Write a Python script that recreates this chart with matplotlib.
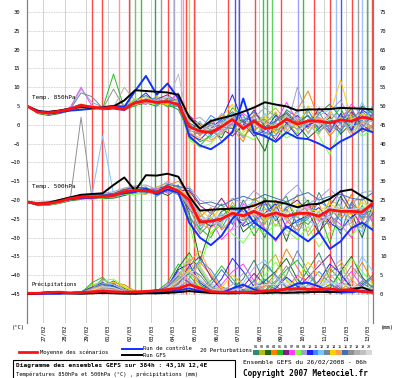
import matplotlib
matplotlib.use("Agg")
import matplotlib.pyplot as plt
import matplotlib.transforms as mtransforms
from matplotlib.lines import Line2D
from matplotlib.patches import Rectangle

# forecast hours since 26/02/2008 06h, every 12 h
hours = [0, 12, 24, 36, 48, 60, 72, 84, 96, 108, 120, 132, 144, 156, 168, 180, 192,
         204, 216, 228, 240, 252, 264, 276, 288, 300, 312, 324, 336, 348, 360, 372, 384]

date_labels = ["27/02", "28/02", "29/02", "01/03", "02/03", "03/03", "04/03", "05/03",
               "06/03", "07/03", "08/03", "09/03", "10/03", "11/03", "12/03", "13/03"]
date_hours = [18, 42, 66, 90, 114, 138, 162, 186, 210, 234, 258, 282, 306, 330, 354, 378]

member_colors = ["#2e8b6e", "#b8b820", "#1a6b1a", "#ff8000", "#20c020", "#8b1a8b", "#ff40ff",
                 "#80ff40", "#a0a0d0", "#2020ff", "#3090ff", "#80c0ff", "#6a8aa0", "#ffd000",
                 "#ffa050", "#4070b0", "#909090", "#b0b0b0", "#c0c0c0", "#d8d8d8"]

# 850 hPa temperature (deg C)
t850_mean = [5.0, 3.4, 3.2, 3.6, 4.2, 5.2, 4.7, 4.4, 4.7, 4.2, 5.9, 6.4, 6.0, 6.2, 5.4, -0.5, -1.7,
             -2.0, -0.5, 1.4, -1.0, 1.0, -1.0, -0.5, 1.5, 0.2, 1.0, 1.0, 0.5, 1.3, 1.0, 2.0, 1.5]
t850_ctrl = [5.0, 3.8, 3.0, 3.3, 3.8, 4.0, 4.3, 4.6, 5.0, 4.8, 9.0, 13.0, 8.0, 11.0, 7.0, -3.0, -5.5,
             -6.5, -4.6, -2.0, 7.0, -2.0, -3.0, -4.5, -2.0, -3.5, -3.8, -5.0, -6.5, -4.4, -3.0, -1.0, -2.0]
t850_gfs = [5.0, 3.6, 3.4, 3.8, 4.3, 4.8, 4.5, 4.6, 4.9, 6.5, 9.2, 9.0, 8.8, 8.6, 8.0, 2.0, -1.0,
            1.0, 1.8, 2.5, 3.5, 4.6, 6.0, 5.4, 4.9, 3.8, 4.1, 4.1, 4.2, 4.5, 4.4, 4.3, 4.1]
t850_members = [
    [5.0, 3.2, 2.8, 3.3, 4.0, 4.6, 4.3, 4.5, 5.0, 4.6, 6.5, 7.8, 6.2, 5.5, 4.0, -2.0, -4.5, -3.0, 1.0, 3.5, 0.5, 2.5, -3.0, -1.5, 4.0, 2.0, -1.0, 3.0, 5.5, 2.0, -2.0, 3.5, 1.0],
    [5.0, 3.6, 3.4, 3.9, 4.4, 5.0, 4.9, 4.2, 4.3, 4.8, 5.5, 6.0, 7.5, 6.8, 6.0, 1.5, -1.0, -4.0, -2.5, 0.5, -3.0, -0.5, 2.0, 4.5, 1.0, -2.5, 3.5, 0.5, -1.5, 2.5, 4.0, 0.5, 2.5],
    [5.0, 3.0, 2.5, 3.0, 3.8, 4.4, 4.6, 4.8, 4.4, 4.0, 5.2, 5.8, 5.0, 7.0, 6.5, -1.5, 0.5, -1.5, -3.5, 2.0, 1.0, -2.0, -7.0, 1.5, 3.0, 0.0, -3.5, -1.0, 2.0, -2.5, 0.5, 5.0, 3.0],
    [5.0, 3.5, 3.3, 3.5, 4.1, 4.8, 5.0, 4.6, 4.9, 4.5, 6.8, 6.5, 5.8, 5.2, 7.2, 0.5, -3.0, 0.5, 2.5, -1.0, -4.5, 3.0, 1.0, -2.5, -0.5, 4.0, 9.0, 1.5, -3.0, 0.5, 2.0, -1.5, 0.0],
    [5.0, 3.3, 3.0, 3.4, 3.9, 4.3, 4.2, 4.4, 13.5, 4.4, 5.0, 6.8, 6.6, 4.8, 5.0, -3.5, -5.5, -2.5, 0.0, 4.5, 2.5, -1.5, 0.5, 3.0, -2.5, 1.0, 2.5, -2.0, 1.0, 4.5, -1.0, 1.5, 4.0],
    [5.0, 3.7, 3.6, 3.8, 4.5, 5.5, 4.5, 4.0, 4.2, 3.8, 6.0, 5.5, 6.8, 8.0, 5.8, 2.5, 0.0, -2.5, -1.0, -3.0, 0.0, 4.0, -0.5, -4.0, 0.5, 2.5, -0.5, 4.5, 2.0, -1.5, 3.5, 0.0, -2.0],
    [5.0, 3.4, 3.1, 3.7, 4.6, 10.0, 5.0, 4.6, 4.5, 4.3, 5.8, 6.2, 5.6, 6.0, 8.5, -0.5, -2.5, 1.5, -2.0, 0.5, 3.0, 1.0, -2.5, 0.5, 6.0, 1.0, 0.0, 2.0, -1.0, 1.0, 5.5, 2.5, 1.5],
    [5.0, 3.1, 2.9, 3.2, 3.7, 4.5, 4.0, 4.3, 4.8, 5.0, 7.0, 6.0, 5.2, 6.5, 6.2, -4.0, -6.0, -5.0, -2.0, -0.5, -2.5, -4.0, 1.5, -1.0, -3.5, -2.0, 1.5, -3.0, -8.0, -1.0, 0.5, -3.0, -1.0],
    [5.0, 3.6, 3.5, 3.6, 4.3, 9.5, 6.0, 4.7, 4.6, 4.1, 5.6, 7.0, 6.4, 5.8, 5.2, 1.0, 2.0, -0.5, 3.0, 1.0, -1.5, 2.0, 4.5, 2.0, -1.0, 10.0, 2.0, -0.5, 3.5, 6.5, 1.0, -0.5, 3.5],
    [5.0, 3.5, 3.2, 3.8, 4.0, 4.7, 4.8, 4.5, 4.4, 4.7, 6.2, 8.5, 5.5, 6.2, 6.6, -2.5, -4.0, -1.0, 1.5, 8.0, 0.5, -3.0, -1.5, 2.5, 0.5, -3.0, 0.0, 1.0, -2.0, 3.0, -1.5, 4.0, 2.0],
    [5.0, 3.2, 3.0, 3.5, 4.2, 4.9, 4.4, 4.9, 5.2, 4.9, 5.4, 6.6, 7.2, 5.6, 4.8, 0.0, -1.5, 2.5, 0.5, 3.0, -0.5, 1.5, -2.0, -3.0, 2.0, 0.5, 4.0, -1.5, 0.0, -2.0, 2.5, 1.0, 5.0],
    [5.0, 3.4, 3.3, 3.9, 4.4, 5.3, 4.7, 4.1, 4.7, 4.2, 6.4, 5.6, 6.2, 7.5, 6.0, -1.0, 1.0, -3.5, -1.5, 0.0, 2.0, -0.5, 3.0, 0.0, -2.0, 3.5, -2.5, 2.5, 4.0, 0.0, -0.5, 6.0, 0.5],
    [5.0, 3.3, 3.1, 3.4, 4.1, 8.5, 7.5, 4.4, 4.5, 4.6, 5.7, 6.3, 5.9, 6.3, 5.5, -3.0, -2.0, 0.0, -4.5, -1.5, 1.5, -2.5, -1.0, 1.0, 2.5, -1.5, 1.0, 3.5, -1.5, 1.5, 3.0, -2.0, -0.5],
    [5.0, 3.6, 3.4, 3.5, 4.3, 4.6, 5.1, 4.7, 4.8, 4.4, 6.6, 7.4, 6.0, 5.4, 6.8, 2.0, -0.5, 1.0, 2.0, 5.5, -2.0, 0.0, 2.5, -2.0, 1.5, -0.5, 5.0, 0.0, 2.5, 12.0, 1.5, 3.0, 2.0],
    [5.0, 3.2, 2.7, 3.3, 3.9, 4.4, 4.5, 4.3, 4.6, 4.5, 5.3, 6.1, 6.9, 5.9, 6.3, -2.0, -3.5, -4.5, -1.5, 2.5, -0.5, -1.0, 0.0, 3.5, -1.5, 1.5, -2.0, 2.0, 0.5, 2.0, -3.0, 1.0, -1.5],
    [5.0, 3.5, 3.5, 3.7, 4.5, 5.0, 4.3, 4.6, 4.3, 4.8, 6.1, 6.7, 6.3, 6.6, 5.7, 0.5, -1.0, 0.5, -0.5, -1.0, 1.0, 3.5, -0.5, 1.0, 3.5, 0.5, 2.5, -1.0, 1.5, 0.5, 4.5, -1.0, 3.0],
    [5.0, 3.4, 3.2, 3.6, 4.2, 5.1, 4.8, 4.2, 9.5, 4.5, 5.9, 6.4, 5.7, 6.9, 6.1, -1.5, -2.5, -1.5, 1.0, 0.0, -3.5, 0.5, 1.5, -1.5, 0.0, -1.0, 1.5, 0.5, -0.5, -1.0, 1.0, 2.0, -1.0],
    [5.0, 3.3, 3.0, 3.4, 4.0, 4.8, 4.6, 4.4, 4.6, 10.0, 6.3, 5.9, 6.1, 5.7, 5.9, 1.0, 0.5, -2.0, -2.5, 1.5, 0.5, -1.5, -3.5, 0.5, -0.5, 2.0, 0.0, -2.5, 3.0, 1.5, -2.0, 0.5, 1.0],
    [5.0, 3.6, 3.3, 3.8, 4.4, 5.4, 4.9, 4.5, 4.5, 4.3, 6.0, 6.5, 6.5, 6.1, 13.5, -0.5, -1.5, -0.5, 0.5, 2.0, -1.0, 2.0, 0.5, -0.5, 2.5, -1.5, 0.5, 1.5, -2.5, 2.0, 0.0, -1.0, 2.0],
    [5.0, 3.4, 3.2, 3.5, 4.1, 5.0, 4.6, 4.6, 4.7, 4.6, 5.8, 6.2, 6.1, 6.0, 6.4, -1.0, -2.0, -1.0, -1.0, 1.0, -1.5, 1.0, -1.5, 0.0, 1.0, 0.5, 1.0, 0.0, 1.5, 1.0, 1.5, 1.5, 1.5],
]

# 500 hPa temperature (deg C)
t500_mean = [-20.5, -21.0, -20.9, -20.4, -19.6, -19.2, -19.2, -19.1, -18.8, -17.8, -17.4, -17.5, -18.0,
             -16.4, -17.6, -20.0, -25.9, -25.6, -25.0, -23.5, -24.2, -23.0, -24.3, -23.4, -24.3, -23.6,
             -23.5, -24.3, -22.6, -23.0, -23.0, -23.2, -20.8]
t500_ctrl = [-20.5, -21.2, -21.0, -20.2, -19.8, -19.5, -19.4, -19.0, -18.6, -18.2, -17.8, -17.0, -18.5,
             -17.2, -18.0, -26.0, -30.0, -32.0, -29.5, -25.0, -22.0, -26.0, -28.0, -30.5, -27.0, -29.0,
             -31.0, -28.5, -33.0, -31.0, -27.5, -26.0, -28.0]
t500_gfs = [-20.5, -21.0, -20.7, -20.0, -19.3, -18.6, -18.4, -18.2, -16.0, -14.0, -17.5, -13.4, -13.5,
            -13.0, -13.8, -19.0, -22.8, -22.6, -22.4, -22.3, -22.2, -21.5, -20.3, -20.4, -21.0, -21.9,
            -21.2, -21.0, -19.7, -17.7, -17.2, -19.0, -20.5]
t500_members = [
    [-20.5, -21.3, -21.2, -20.6, -19.8, -19.5, -19.6, -19.4, -19.0, -18.5, -17.0, -16.5, -19.0, -17.2, -16.0, -22.0, -28.0, -24.0, -21.0, -26.5, -20.0, -24.5, -30.0, -21.5, -19.0, -27.0, -25.0, -18.0, -23.5, -29.0, -20.5, -24.0, -22.5],
    [-20.5, -20.8, -20.6, -20.1, -19.4, -18.8, -19.0, -18.7, -18.2, -17.0, -18.2, -18.5, -16.5, -15.5, -18.5, -19.0, -23.0, -29.0, -26.5, -20.5, -25.5, -19.5, -22.0, -27.0, -23.0, -18.5, -29.5, -26.0, -20.0, -21.5, -27.5, -19.0, -24.0],
    [-20.5, -21.5, -21.4, -20.9, -20.2, -19.8, -19.4, -19.6, -19.5, -18.8, -18.0, -17.0, -17.5, -18.8, -17.0, -23.5, -36.0, -27.0, -23.0, -22.0, -28.5, -26.0, -19.5, -24.0, -31.0, -22.5, -20.0, -28.5, -25.0, -19.0, -23.5, -30.0, -21.0],
    [-20.5, -20.9, -20.8, -20.3, -19.5, -19.0, -18.9, -18.8, -18.5, -17.5, -16.8, -17.8, -18.6, -16.0, -15.0, -18.0, -24.5, -22.0, -28.0, -25.0, -22.5, -21.0, -26.5, -20.0, -25.5, -28.0, -22.0, -21.0, -27.5, -24.0, -18.5, -26.0, -19.5],
    [-20.5, -21.1, -21.0, -20.5, -19.7, -19.3, -19.5, -19.2, -18.9, -18.2, -17.6, -16.8, -17.8, -17.0, -18.2, -25.0, -27.5, -30.0, -24.5, -21.5, -24.0, -29.5, -25.0, -22.0, -20.5, -24.5, -26.5, -23.0, -31.5, -22.0, -25.0, -21.5, -26.0],
    [-20.5, -20.7, -20.5, -20.0, -19.2, -18.9, -18.6, -18.5, -18.3, -17.2, -16.5, -17.2, -17.0, -16.2, -17.4, -17.5, -21.5, -23.5, -19.5, -24.0, -26.5, -22.5, -20.5, -25.5, -22.0, -20.0, -23.0, -29.0, -21.5, -17.5, -22.5, -27.0, -23.5],
    [-20.5, -21.2, -21.1, -20.7, -19.9, -19.4, -19.3, -19.0, -18.6, -18.0, -17.8, -17.6, -16.8, -18.2, -16.6, -21.0, -26.0, -25.0, -30.5, -27.5, -21.0, -23.5, -27.5, -31.0, -26.0, -23.5, -21.5, -25.5, -24.0, -26.5, -30.0, -22.5, -25.5],
    [-20.5, -21.4, -21.3, -20.8, -20.0, -19.7, -19.8, -19.5, -19.1, -18.4, -18.5, -18.0, -18.4, -17.5, -17.8, -26.0, -38.0, -28.5, -26.0, -29.0, -31.5, -27.0, -29.0, -26.5, -28.0, -30.5, -27.0, -32.5, -28.5, -27.0, -29.5, -26.5, -27.0],
    [-20.5, -20.6, -20.4, -19.9, -19.1, -18.6, -18.4, -18.2, -17.8, -16.8, -16.2, -16.0, -17.2, -15.0, -16.8, -16.5, -20.0, -21.5, -22.5, -19.5, -21.0, -17.5, -20.0, -22.5, -18.5, -16.0, -21.0, -19.5, -17.0, -20.0, -21.5, -18.0, -17.5],
    [-20.5, -21.0, -20.9, -20.4, -19.6, -19.1, -19.3, -19.1, -18.9, -17.9, -17.3, -17.9, -18.2, -16.8, -17.2, -22.5, -25.0, -27.0, -25.5, -23.0, -27.0, -25.5, -23.5, -21.0, -27.5, -25.5, -24.0, -22.0, -26.0, -28.0, -24.5, -23.0, -21.5],
    [-20.5, -21.2, -21.0, -20.6, -19.9, -19.6, -19.0, -19.3, -18.7, -18.1, -17.5, -17.3, -17.6, -17.8, -18.0, -20.5, -27.0, -24.5, -27.5, -22.5, -23.0, -27.5, -21.0, -24.5, -22.5, -26.0, -24.5, -20.5, -22.0, -25.5, -21.0, -25.0, -20.0],
    [-20.5, -20.8, -20.7, -20.2, -19.3, -19.0, -18.8, -3.0, -18.4, -17.6, -17.1, -17.1, -18.8, -16.6, -17.0, -19.5, -24.0, -26.0, -23.5, -26.0, -22.0, -20.5, -24.5, -25.0, -21.5, -22.0, -25.5, -27.0, -23.0, -21.0, -26.0, -28.5, -22.0],
    [-20.5, -21.3, -21.1, -20.7, -19.8, -19.4, -19.7, -19.3, -19.2, -18.3, -17.7, -18.2, -17.4, -17.3, -18.6, -24.0, -29.0, -26.0, -24.0, -24.5, -25.5, -23.0, -26.0, -23.0, -24.0, -29.0, -23.5, -24.5, -26.5, -23.5, -22.0, -24.5, -24.5],
    [-20.5, -20.9, -20.8, -20.3, -19.4, -18.9, -19.1, -18.9, -18.6, -17.7, -16.9, -17.4, -18.1, -16.4, -17.2, -18.5, -22.5, -25.0, -22.0, -23.5, -24.5, -21.5, -25.5, -21.5, -23.5, -21.0, -22.5, -23.0, -21.0, -22.5, -24.0, -20.5, -23.0],
    [-20.5, -21.0, -21.0, -20.5, -19.7, -19.2, -19.2, -19.2, -18.9, -18.0, -17.4, -17.7, -17.9, -16.6, -17.7, -21.5, -26.5, -27.5, -25.0, -24.0, -23.5, -24.0, -22.5, -24.0, -25.0, -23.0, -24.5, -25.0, -22.5, -24.5, -23.5, -23.0, -21.0],
    [-20.5, -20.7, -20.6, -20.1, -19.3, -18.7, -18.7, -18.6, -18.4, -17.3, -16.7, -16.9, -17.7, -15.8, -16.4, -17.0, -21.0, -20.5, -21.5, -20.0, -19.0, -20.0, -18.5, -19.5, -20.5, -19.0, -18.0, -20.0, -19.0, -18.5, -19.5, -20.0, -18.0],
    [-20.5, -21.1, -21.0, -20.5, -19.8, 2.0, -19.5, -19.1, -18.8, -17.9, -17.5, -17.5, -18.1, -16.5, -17.6, -20.0, -25.5, -25.5, -25.0, -23.5, -24.0, -23.0, -24.0, -23.5, -24.0, -23.5, -23.5, -24.0, -22.5, -23.0, -23.0, -23.0, -21.0],
    [-20.5, -21.2, -21.1, -20.6, -19.9, -19.4, -19.4, -19.0, -18.5, -17.6, -17.2, -17.6, -18.3, -16.9, -17.9, -22.0, -28.5, -23.0, -27.0, -28.0, -26.0, -24.0, -28.0, -25.0, -29.5, -26.5, -28.5, -24.0, -25.0, -27.5, -26.0, -27.5, -24.5],
    [-20.5, -20.9, -20.8, -20.3, -19.5, -19.1, -19.0, -18.9, -18.7, -17.7, -17.3, -17.4, -17.9, -16.3, -17.5, -19.0, -23.5, -26.5, -26.0, -22.5, -25.0, -23.5, -26.0, -22.5, -25.5, -24.5, -22.0, -26.0, -24.5, -21.5, -25.5, -22.0, -22.5],
    [-20.5, -21.0, -20.9, -20.4, -19.6, -19.2, -19.2, -19.1, -18.8, -17.8, -17.4, -17.5, -18.0, -16.4, -17.6, -20.5, -25.0, -24.5, -24.5, -23.0, -23.5, -22.5, -23.5, -23.0, -23.5, -22.5, -23.0, -23.5, -22.0, -22.5, -22.5, -22.0, -20.5],
]

# precipitation (mm, right axis)
rr_mean = [0.2, 0.2, 0.4, 0.5, 0.3, 0.4, 0.6, 0.8, 0.6, 0.5, 0.6, 0.7, 0.9, 1.2, 1.5, 2.5, 1.6,
           0.6, 0.5, 0.5, 0.4, 0.5, 0.8, 1.0, 1.3, 1.4, 1.3, 1.2, 1.4, 1.0, 1.2, 0.6, 0.5]
rr_ctrl = [0.0, 0.0, 0.1, 0.1, 0.2, 0.2, 0.3, 0.4, 0.3, 0.3, 0.2, 0.3, 0.4, 0.6, 1.0, 1.5, 0.8,
           0.4, 0.3, 1.5, 2.5, 1.2, 0.6, 0.8, 1.5, 2.8, 3.0, 2.0, 0.6, 0.4, 0.5, 0.8, 0.4]
rr_gfs = [0.0, 0.2, 0.5, 0.3, 0.2, 0.1, 0.2, 0.3, 0.2, 0.1, 0.1, 0.2, 0.2, 0.3, 0.5, 0.8, 0.5,
          0.3, 0.2, 0.2, 0.3, 0.2, 0.3, 0.4, 0.3, 0.4, 0.5, 0.6, 0.5, 0.7, 1.2, 1.8, 0.6]
rr_members = [
    [0, 0, 0.1, 0.2, 0.3, 0.5, 1.5, 4.0, 2.0, 0.5, 0.3, 0.5, 1.0, 0.8, 3.0, 6.0, 2.5, 0.5, 0.2, 1.5, 4.0, 9.0, 3.0, 1.0, 0.5, 2.0, 6.5, 11.0, 4.0, 1.5, 0.5, 3.0, 1.0],
    [0, 0.1, 0.2, 0.1, 0.2, 0.4, 2.5, 3.0, 1.0, 0.3, 0.2, 0.3, 0.6, 1.5, 5.0, 9.0, 4.0, 1.0, 0.5, 0.3, 0.8, 2.5, 7.0, 10.5, 3.5, 0.8, 0.3, 1.0, 5.5, 8.0, 2.0, 0.5, 0.3],
    [0, 0, 0, 0.1, 0.2, 0.3, 0.8, 2.0, 3.5, 1.5, 0.5, 0.2, 0.4, 2.0, 7.0, 11.0, 6.0, 2.0, 0.5, 0.3, 0.2, 1.0, 3.5, 6.0, 9.5, 4.0, 1.0, 0.5, 1.5, 6.0, 10.0, 4.5, 1.5],
    [0, 0.1, 0.1, 0.2, 0.4, 0.6, 1.0, 1.5, 3.0, 2.5, 0.8, 0.3, 0.2, 0.5, 1.5, 4.0, 8.5, 5.0, 1.5, 0.5, 0.3, 0.5, 2.0, 5.5, 12.0, 7.0, 2.5, 0.8, 0.3, 1.0, 3.5, 8.5, 3.0],
    [0, 0, 0.2, 0.3, 0.2, 0.3, 3.0, 4.5, 1.5, 0.4, 0.2, 0.4, 0.8, 3.0, 8.0, 5.0, 1.5, 3.5, 7.5, 4.0, 1.0, 0.4, 0.8, 3.0, 6.5, 9.0, 5.0, 2.0, 7.0, 3.5, 1.0, 0.5, 2.0],
    [0, 0.1, 0.1, 0.1, 0.3, 0.5, 0.9, 2.5, 2.8, 1.0, 0.4, 0.6, 1.2, 1.0, 2.5, 7.5, 10.0, 4.5, 1.0, 0.5, 2.0, 5.5, 2.5, 0.8, 0.4, 1.5, 4.5, 7.5, 10.5, 5.0, 2.0, 1.0, 0.5],
    [0, 0, 0.1, 0.2, 0.3, 0.4, 1.2, 2.0, 1.2, 0.6, 0.3, 0.2, 0.5, 2.5, 6.0, 3.0, 0.8, 0.4, 2.5, 6.0, 8.0, 3.5, 1.0, 0.5, 1.5, 5.0, 3.0, 1.0, 0.5, 2.5, 6.0, 2.0, 0.8],
    [0, 0.1, 0.2, 0.2, 0.3, 0.5, 2.0, 3.5, 4.0, 2.0, 0.6, 0.3, 0.3, 1.2, 4.5, 10.5, 7.0, 2.5, 0.6, 0.3, 0.5, 1.5, 5.0, 8.5, 4.0, 1.0, 0.4, 0.8, 2.0, 4.5, 9.5, 6.0, 2.5],
    [0, 0, 0.1, 0.1, 0.2, 0.3, 0.6, 1.0, 0.8, 0.3, 0.2, 0.3, 0.7, 0.9, 2.0, 3.5, 1.0, 0.3, 0.2, 0.8, 2.5, 1.0, 0.4, 0.3, 1.0, 3.0, 1.2, 0.5, 0.3, 0.6, 1.8, 1.0, 0.4],
    [0, 0.1, 0.1, 0.3, 0.4, 0.6, 1.8, 3.0, 2.2, 0.8, 0.4, 0.5, 1.0, 1.8, 6.5, 8.0, 3.0, 1.0, 4.0, 9.5, 6.0, 2.0, 0.6, 1.5, 4.5, 2.0, 0.8, 3.5, 8.0, 5.5, 1.5, 0.6, 1.0],
    [0, 0, 0.1, 0.2, 0.3, 0.4, 1.0, 2.2, 1.8, 0.7, 0.3, 0.3, 0.6, 1.4, 3.5, 5.5, 9.0, 6.5, 2.0, 0.7, 0.4, 1.2, 4.0, 2.0, 0.6, 0.3, 2.5, 6.0, 3.0, 1.0, 0.5, 2.0, 4.5],
    [0, 0.1, 0.2, 0.2, 0.3, 0.5, 1.3, 2.8, 2.5, 1.2, 0.5, 0.4, 0.9, 2.2, 5.5, 4.0, 1.2, 0.5, 0.3, 1.0, 3.0, 7.0, 9.0, 4.5, 1.5, 0.6, 0.3, 1.5, 3.5, 2.0, 4.0, 10.0, 6.0],
    [0, 0, 0, 0.1, 0.2, 0.3, 0.7, 1.5, 1.0, 0.4, 0.2, 0.2, 0.4, 0.8, 2.8, 7.0, 5.0, 1.5, 0.5, 0.4, 1.0, 0.5, 0.3, 2.0, 5.0, 11.5, 6.0, 2.0, 0.8, 0.4, 1.0, 3.5, 2.0],
    [0, 0.1, 0.1, 0.2, 0.3, 0.5, 1.1, 2.4, 3.2, 1.8, 0.5, 0.4, 0.8, 1.6, 4.0, 6.5, 2.0, 0.7, 1.8, 5.0, 2.5, 0.8, 0.4, 0.6, 2.0, 4.0, 8.5, 5.0, 1.5, 0.6, 0.3, 1.0, 0.5],
    [0, 0, 0.1, 0.1, 0.2, 0.4, 0.9, 1.8, 1.4, 0.5, 0.3, 0.3, 0.5, 1.1, 3.2, 8.5, 11.5, 5.5, 1.5, 0.5, 0.3, 0.8, 2.5, 1.0, 0.5, 0.3, 1.2, 3.0, 6.5, 9.0, 4.0, 1.2, 0.6],
    [0, 0.1, 0.2, 0.3, 0.4, 0.6, 1.6, 2.6, 2.0, 0.9, 0.4, 0.5, 0.9, 1.9, 4.8, 3.0, 1.0, 2.5, 6.5, 3.0, 1.0, 3.5, 8.0, 5.0, 1.8, 0.7, 0.3, 0.9, 2.5, 1.2, 0.6, 2.5, 5.0],
    [0, 0, 0.1, 0.2, 0.2, 0.3, 0.8, 1.2, 1.6, 0.6, 0.3, 0.2, 0.6, 1.3, 3.8, 6.0, 3.5, 1.2, 0.4, 0.3, 0.6, 2.0, 1.0, 3.5, 7.5, 3.0, 0.8, 0.4, 1.0, 3.0, 7.5, 4.0, 1.5],
    [0, 0.1, 0.1, 0.2, 0.3, 0.4, 1.4, 3.8, 2.6, 1.0, 0.4, 0.3, 0.7, 1.7, 4.2, 9.5, 6.5, 2.0, 0.8, 2.5, 5.5, 3.0, 0.9, 0.5, 0.3, 1.0, 3.5, 9.0, 5.5, 2.0, 0.8, 0.4, 0.3],
    [0, 0, 0.1, 0.1, 0.2, 0.3, 0.6, 1.4, 1.1, 0.5, 0.2, 0.3, 0.6, 1.0, 2.4, 5.0, 7.5, 3.0, 1.0, 0.4, 0.2, 0.6, 1.8, 4.5, 2.5, 1.0, 0.5, 2.0, 4.0, 7.0, 3.0, 1.0, 0.5],
    [0, 0.1, 0.1, 0.2, 0.3, 0.4, 1.0, 2.0, 1.7, 0.7, 0.3, 0.4, 0.7, 1.5, 3.5, 6.0, 4.0, 1.5, 0.7, 1.0, 1.5, 2.0, 2.5, 2.5, 3.0, 2.5, 2.0, 2.5, 3.0, 2.5, 2.0, 2.0, 1.5],
]

# members whose precipitation runs off the top of the chart (hour of the spike)
spike_hours = [72, 83, 102, 113, 120, 126, 142, 149, 156, 163, 171, 173, 176, 180, 185,
               223, 231, 235, 253, 262, 266, 272, 282, 301, 306, 318, 336, 343, 348, 361, 367, 372, 377, 383]
spike_colors = ["#ff4848", "#ff4848", "#ff9898", "#ff4848", "#60d060", "#40c040", "#3c9a6a",
                "#a0a0a0", "#ff4848", "#a8a8d0", "#a0c0ff", "#ff9898", "#ff4848", "#c8d850",
                "#ff4848", "#ff4848", "#5050ff", "#5050ff", "#ff4848", "#40c040", "#40c040",
                "#60d060", "#ff4848", "#a0a0ff", "#40c040", "#ff4848", "#ff4848", "#a0c0ff",
                "#5050ff", "#ff4848", "#a0a0a0", "#a0c0ff", "#40c040", "#ff4848"]

mono = "DejaVu Sans Mono"
days = [h / 24 for h in hours]

fig = plt.figure(figsize=(4, 3.78), dpi=100)
ax = fig.add_axes([27 / 400, 1 - 323 / 378, 346 / 400, 323 / 378])
ax2 = ax.twinx()

ax.set_xlim(0, 16)
ax.set_ylim(-52.7, 33.2)
ax2.set_ylim(-7.7, 78.2)

# precipitation that leaves the chart shows as near-vertical strokes
ax.vlines([h / 24 for h in spike_hours], -45, 40, colors=spike_colors, lw=1.0, zorder=1)

for i in range(20):
    ax.plot(days, t850_members[i], color=member_colors[i], lw=0.7, zorder=2)
    ax.plot(days, t500_members[i], color=member_colors[i], lw=0.7, zorder=2)
    ax2.plot(days, rr_members[i], color=member_colors[i], lw=0.7, zorder=2)

for series, ax_ in [(t850_ctrl, ax), (t500_ctrl, ax), (rr_ctrl, ax2)]:
    ax_.plot(days, series, color="#1030ff", lw=1.4, zorder=3)
for series, ax_ in [(t850_gfs, ax), (t500_gfs, ax), (rr_gfs, ax2)]:
    ax_.plot(days, series, color="black", lw=1.4, zorder=4)
for series, ax_ in [(t850_mean, ax), (t500_mean, ax), (rr_mean, ax2)]:
    ax_.plot(days, series, color="#ff1010", lw=2.0, zorder=5)

ax.text(0.22, 7.3, "Temp. 850hPa", family=mono, size=4.3, va="center", zorder=6)
ax.text(0.22, -16.3, "Temp. 500hPa", family=mono, size=4.3, va="center", zorder=6)
ax.text(0.22, -42.5, "Précipitations", family=mono, size=4.0, va="center", zorder=6)

# axes dressing
ax.set_yticks(range(-45, 31, 5))
ax2.set_yticks(range(0, 76, 5))
ax.set_xticks([h / 24 for h in date_hours])
ax.set_xticklabels(date_labels, rotation=90, family=mono, size=4)
shift = mtransforms.ScaledTranslation(4 / 100, 0, fig.dpi_scale_trans)
for lab in ax.get_xticklabels():
    lab.set_transform(lab.get_transform() + shift)
ax.tick_params(axis="y", length=0, labelsize=4, pad=5)
ax.tick_params(axis="x", length=0, pad=1.5)
ax2.tick_params(axis="y", length=0, labelsize=4, pad=5)
for lab in ax.get_yticklabels() + ax2.get_yticklabels():
    lab.set_family(mono)

ax.grid(axis="y", color="#c4c4c4", lw=0.6, linestyle=(0, (1, 1)))
ax.grid(axis="x", color="#cccccc", lw=0.6)
ax.set_axisbelow(True)
for a in (ax, ax2):
    a.spines["top"].set_visible(False)
    a.spines["bottom"].set_visible(False)
    a.spines["left"].set_color("#808080")
    a.spines["right"].set_color("#808080")
    a.spines["left"].set_linewidth(0.8)
    a.spines["right"].set_linewidth(0.8)

fig.text(12 / 400, 1 - 328 / 378, "(°C)", family=mono, size=4, va="center")
fig.text(381 / 400, 1 - 328 / 378, "(mm)", family=mono, size=4, va="center")

# legend strip below the chart
def fx(px):
    return px / 400


def fy(py):
    return 1 - py / 378


fig.add_artist(Line2D([fx(19), fx(37)], [fy(352), fy(352)], color="#ff1010", lw=2.0))
fig.text(fx(40), fy(352), "Moyenne des scénarios", family=mono, size=4, va="center")
fig.add_artist(Line2D([fx(122), fx(142)], [fy(349), fy(349)], color="#1030ff", lw=1.4))
fig.add_artist(Line2D([fx(122), fx(142)], [fy(355), fy(355)], color="black", lw=1.4))
fig.text(fx(143), fy(349), "Run de contrôle", family=mono, size=4, va="center")
fig.text(fx(143), fy(355.5), "Run GFS", family=mono, size=4, va="center")
fig.text(fx(200), fy(350), "20 Perturbations", family=mono, size=4, va="center")
for i in range(20):
    x0 = 253 + i * 5.95
    fig.add_artist(Rectangle((fx(x0), fy(355)), fx(5.95), 5 / 378,
                             facecolor=member_colors[i], edgecolor="none"))
    fig.text(fx(x0 + 3), fy(347), "%02d" % (i + 1), family=mono, size=2.6,
             ha="center", va="center")

fig.add_artist(Rectangle((fx(13), fy(382)), fx(222), 22 / 378, facecolor="none",
                         edgecolor="black", lw=0.8))
fig.text(fx(16), fy(366), "Diagramme des ensembles GEFS sur 384h : 43,1N 12,4E",
         family=mono, size=4.4, weight="bold", va="center")
fig.text(fx(16), fy(374), "Températures 850hPa et 500hPa (°C) , précipitations (mm)",
         family=mono, size=3.9, va="center")
fig.text(fx(243), fy(362), "Ensemble GEFS du 26/02/2008 - 06h", family=mono, size=4.5,
         va="center")
fig.text(fx(243), fy(373.5), "Copyright 2007 Meteociel.fr", family=mono, size=5.5,
         weight="bold", va="center")

fig.savefig("out.png", dpi=100)
